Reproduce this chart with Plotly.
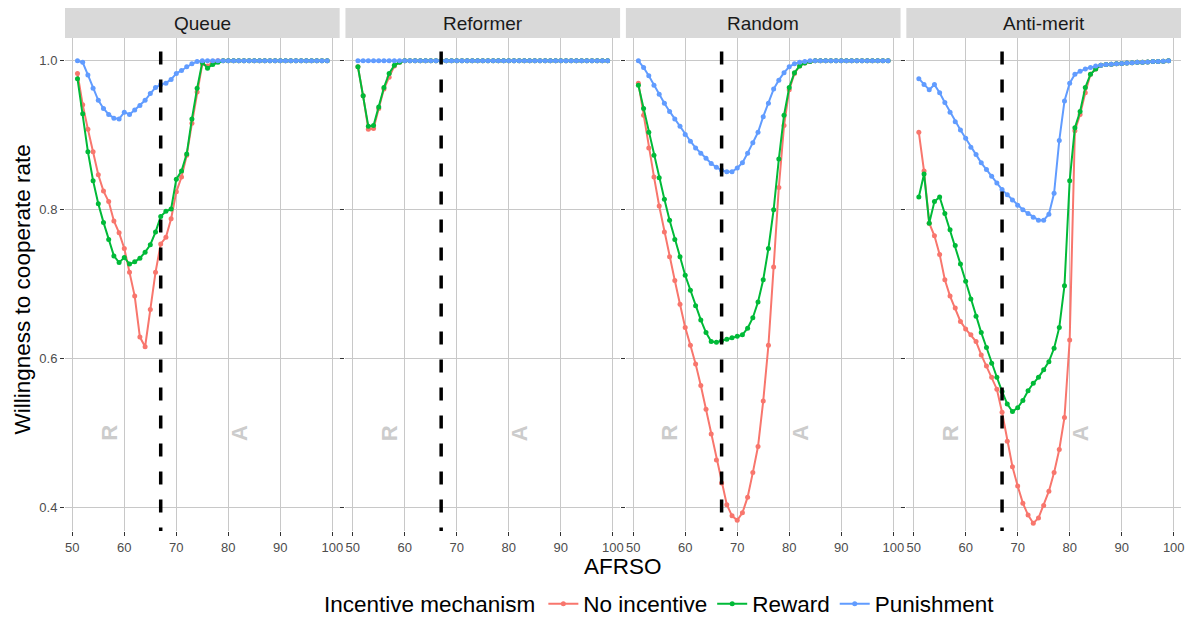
import plotly.graph_objects as go

# ---------------- data ----------------
X = list(range(51, 100))
panels = ["Queue", "Reformer", "Random", "Anti-merit"]
series_names = ["No incentive", "Reward", "Punishment"]
colors = ["#F8766D", "#00BA38", "#619CFF"]

queue_none = [0.983, 0.941, 0.908, 0.878, 0.847, 0.825, 0.811, 0.785, 0.769, 0.748,
              0.716, 0.684, 0.629, 0.616, 0.666, 0.716, 0.754, 0.763, 0.788, 0.824,
              0.844, 0.873, 0.916, 0.958, 0.996, 0.993, 0.998] + [1.0] * 22
queue_reward = [0.976, 0.929, 0.878, 0.839, 0.808, 0.783, 0.760, 0.738, 0.729, 0.736,
                0.727, 0.730, 0.735, 0.743, 0.753, 0.770, 0.791, 0.798, 0.801, 0.841,
                0.852, 0.875, 0.922, 0.963, 0.998, 0.990, 0.995, 0.998] + [1.0] * 21
queue_punish = [1.0, 0.998, 0.981, 0.963, 0.947, 0.936, 0.928, 0.923, 0.922, 0.931,
                0.928, 0.934, 0.940, 0.947, 0.956, 0.964, 0.968, 0.970, 0.975, 0.983,
                0.987, 0.992, 0.996, 0.999] + [1.0] * 25

reformer_none = [0.992, 0.953, 0.908, 0.909, 0.936, 0.962, 0.978, 0.993, 0.998] + [1.0] * 40
reformer_reward = [0.992, 0.953, 0.912, 0.913, 0.938, 0.964, 0.983, 0.994, 0.998] + [1.0] * 40
reformer_punish = [1.0] * 49

random_none = [0.970, 0.927, 0.883, 0.844, 0.805, 0.770, 0.737, 0.705, 0.673, 0.642,
               0.618, 0.593, 0.564, 0.532, 0.499, 0.464, 0.433, 0.404, 0.389, 0.383,
               0.393, 0.414, 0.447, 0.482, 0.543, 0.618, 0.723, 0.830, 0.913, 0.961,
               0.983, 0.993, 0.997, 0.999] + [1.0] * 15
random_reward = [0.967, 0.936, 0.904, 0.873, 0.843, 0.814, 0.786, 0.760, 0.737, 0.712,
                 0.692, 0.671, 0.652, 0.635, 0.623, 0.622, 0.624, 0.626, 0.628, 0.630,
                 0.632, 0.641, 0.655, 0.676, 0.706, 0.748, 0.800, 0.868, 0.927, 0.964,
                 0.984, 0.993, 0.997, 0.999] + [1.0] * 15
random_punish = [1.0, 0.991, 0.980, 0.967, 0.955, 0.943, 0.932, 0.922, 0.912, 0.901,
                 0.892, 0.883, 0.876, 0.869, 0.862, 0.857, 0.853, 0.851, 0.851, 0.856,
                 0.863, 0.876, 0.890, 0.904, 0.925, 0.943, 0.962, 0.974, 0.984, 0.992,
                 0.996, 0.998, 0.999] + [1.0] * 16

anti_none = [0.904, 0.852, 0.782, 0.765, 0.740, 0.706, 0.684, 0.668, 0.650, 0.640,
             0.632, 0.623, 0.605, 0.590, 0.575, 0.559, 0.528, 0.489, 0.455, 0.429,
             0.406, 0.390, 0.379, 0.386, 0.403, 0.422, 0.447, 0.478, 0.521, 0.625,
             0.906, 0.928, 0.957, 0.982, 0.989, 0.994, 0.995, 0.9955, 0.996, 0.9965,
             0.997, 0.9975, 0.998, 0.998, 0.9985, 0.999, 0.999, 0.9995, 1.0]
anti_reward = [0.817, 0.848, 0.782, 0.811, 0.817, 0.795, 0.773, 0.752, 0.727, 0.704,
               0.680, 0.657, 0.635, 0.615, 0.594, 0.575, 0.556, 0.539, 0.529, 0.534,
               0.544, 0.557, 0.567, 0.575, 0.585, 0.596, 0.614, 0.642, 0.698, 0.839,
               0.910, 0.932, 0.964, 0.982, 0.989, 0.994, 0.995, 0.9955, 0.996, 0.9965,
               0.997, 0.9975, 0.998, 0.998, 0.9985, 0.999, 0.999, 0.9995, 1.0]
anti_punish = [0.976, 0.968, 0.961, 0.968, 0.957, 0.944, 0.931, 0.918, 0.907, 0.896,
               0.884, 0.874, 0.863, 0.854, 0.845, 0.836, 0.827, 0.820, 0.813, 0.806,
               0.800, 0.795, 0.790, 0.786, 0.786, 0.794, 0.822, 0.893, 0.946, 0.970,
               0.982, 0.986, 0.989, 0.991, 0.993, 0.994, 0.995, 0.9955, 0.996, 0.9965,
               0.997, 0.9975, 0.998, 0.998, 0.9985, 0.999, 0.999, 0.9995, 1.0]

panel_data = [
    [queue_none, queue_reward, queue_punish],
    [reformer_none, reformer_reward, reformer_punish],
    [random_none, random_reward, random_punish],
    [anti_none, anti_reward, anti_punish],
]

threshold_x = 67
label_r_x, label_a_x, label_y = 57, 82, 0.5
x_ticks = [50, 60, 70, 80, 90, 100]
y_ticks = [0.4, 0.6, 0.8, 1.0]
y_tick_text = ["0.4", "0.6", "0.8", "1.0"]

# ---------------- layout geometry ----------------
W, H = 1196, 618
ML, MR, MT, MB = 65, 15, 38, 87
PW = W - ML - MR
PH = H - MT - MB
GAP = 5.8
panel_w = (PW - 3 * GAP) / 4
strip_h = 30

X_RANGE = [48.6, 101.4]
Y_RANGE = [0.3686, 1.0306]

FONT = "Liberation Sans, Arial, sans-serif"
GRID = "#C8C8C8"

fig = go.Figure()
layout = dict(
    width=W, height=H,
    margin=dict(l=ML, r=MR, t=MT, b=MB, pad=0, autoexpand=False),
    paper_bgcolor="white", plot_bgcolor="white",
    font=dict(family=FONT, color="#1A1A1A"),
    shapes=[], annotations=[],
)

for i, name in enumerate(panels):
    xa = "x" if i == 0 else f"x{i+1}"
    ya = "y" if i == 0 else f"y{i+1}"
    x0 = i * (panel_w + GAP) / PW
    x1 = (i * (panel_w + GAP) + panel_w) / PW
    layout["xaxis" if i == 0 else f"xaxis{i+1}"] = dict(
        domain=[x0, x1], range=X_RANGE, anchor=ya,
        tickmode="array", tickvals=x_ticks,
        ticks="outside", ticklen=4, tickcolor="#333333", tickwidth=1,
        showgrid=True, gridcolor=GRID, gridwidth=1, zeroline=False,
        showline=False,
        tickfont=dict(size=13, color="#4D4D4D", family=FONT),
    )
    layout["yaxis" if i == 0 else f"yaxis{i+1}"] = dict(
        domain=[0, 1], range=Y_RANGE, anchor=xa,
        tickmode="array", tickvals=y_ticks, ticktext=y_tick_text,
        showticklabels=(i == 0),
        ticks="outside", ticklen=4, tickcolor="#333333", tickwidth=1,
        showgrid=True, gridcolor=GRID, gridwidth=1, zeroline=False,
        showline=False,
        tickfont=dict(size=13, color="#4D4D4D", family=FONT),
    )
    # strip
    layout["shapes"].append(dict(
        type="rect", xref=f"{xa} domain", yref="paper",
        x0=0, x1=1, y0=1, y1=1 + strip_h / PH,
        fillcolor="#D9D9D9", line=dict(width=0), layer="below",
    ))
    layout["annotations"].append(dict(
        xref=f"{xa} domain", yref="paper", x=0.5, y=1 + strip_h / 2 / PH,
        text=name, showarrow=False, xanchor="center", yanchor="middle",
        font=dict(size=19, color="#1A1A1A", family=FONT),
    ))
    # R / A labels
    for lx, lt in [(label_r_x, "R"), (label_a_x, "A")]:
        layout["annotations"].append(dict(
            xref=xa, yref=ya, x=lx, y=label_y, text=f"<b>{lt}</b>",
            textangle=-90, showarrow=False,
            font=dict(size=22, color="#CCCCCC", family=FONT),
        ))
    # series
    for s, (sname, col) in enumerate(zip(series_names, colors)):
        fig.add_trace(go.Scatter(
            x=X, y=panel_data[i][s], mode="lines+markers",
            name=sname, legendgroup=sname, showlegend=(i == 0),
            line=dict(color=col, width=2),
            marker=dict(color=col, size=5),
            xaxis=xa, yaxis=ya, cliponaxis=True,
        ))
    # dashed threshold line (drawn top -> bottom)
    fig.add_trace(go.Scatter(
        x=[threshold_x, threshold_x], y=[1.0502, 0.30], mode="lines",
        line=dict(color="black", width=3.5, dash="13px,15px"),
        showlegend=False, hoverinfo="skip", xaxis=xa, yaxis=ya,
    ))

# axis titles
layout["annotations"].append(dict(
    xref="paper", yref="paper", x=0.5, y=(-35) / PH, text="AFRSO",
    showarrow=False, xanchor="center", yanchor="middle",
    font=dict(size=22.5, color="black", family=FONT),
))
layout["annotations"].append(dict(
    xref="paper", yref="paper", x=(22 - ML) / PW, y=0.49,
    text="Willingness to cooperate rate", textangle=-90,
    showarrow=False, xanchor="center", yanchor="middle",
    font=dict(size=22.5, color="black", family=FONT),
))

layout["legend"] = dict(
    orientation="h", x=(322 - ML) / PW, xanchor="left",
    y=(-73) / PH, yanchor="middle",
    title=dict(text="Incentive mechanism", side="left",
               font=dict(size=22.5, color="black", family=FONT)),
    font=dict(size=22.5, color="black", family=FONT),
    itemwidth=30, tracegroupgap=0, bgcolor="rgba(0,0,0,0)",
)

fig.update_layout(**layout)
fig.write_html("out.html", config={"displayModeBar": False},
               post_script="document.body.style.margin='0';")
